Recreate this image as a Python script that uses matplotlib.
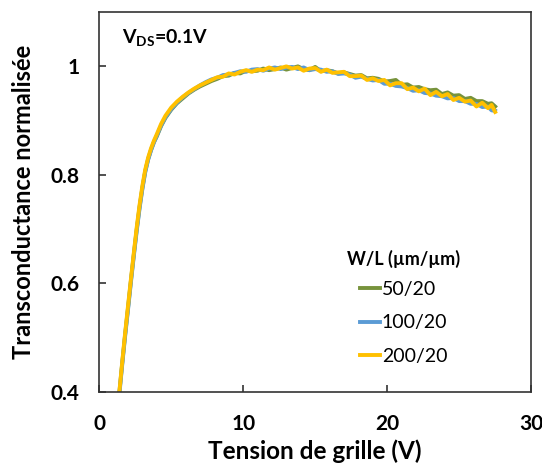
import matplotlib
matplotlib.use('Agg')
import matplotlib.pyplot as plt

# Gate voltage (V)
vg = [1.4, 1.6, 1.8, 2.0, 2.2, 2.4, 2.6, 2.8, 3.0, 3.2, 3.4, 3.6, 3.8, 4.0,
      4.3, 4.6, 5.0, 5.4, 5.8, 6.2, 6.6, 7.0, 7.4, 7.8, 8.2, 8.6, 9.0, 9.4,
      9.8, 10.2, 10.6, 11.0, 11.4, 11.8, 12.2, 12.6, 13.0, 13.4, 13.8, 14.2,
      14.6, 15.0, 15.4, 15.8, 16.2, 16.6, 17.0, 17.4, 17.8, 18.2, 18.6, 19.0,
      19.4, 19.8, 20.2, 20.6, 21.0, 21.4, 21.8, 22.2, 22.6, 23.0, 23.4, 23.8,
      24.2, 24.6, 25.0, 25.4, 25.8, 26.2, 26.6, 27.0, 27.25, 27.5]

# normalised transconductance, one list per W/L
gm_50 = [.398, .453, .505, .554, .604, .652, .698, .740, .776, .807, .829, .846, .860, .871,
         .890, .905, .920, .932, .941, .950, .957, .963, .968, .973, .977, .982, .983, .988,
         .987, .992, .991, .992, .996, .993, .995, .998, .994, .997, 1.000, .995,
         .993, .999, .991, .993, .991, .987, .989, .986, .983, .984, .978, .979,
         .977, .972, .973, .975, .966, .967, .961, .962, .958, .956, .957, .949,
         .952, .946, .947, .940, .942, .936, .936, .931, .932, .926]

gm_100 = [.395, .450, .502, .551, .601, .649, .695, .737, .774, .805, .828, .845, .860, .872,
          .891, .906, .921, .933, .943, .951, .958, .965, .971, .976, .979, .984, .985, .988,
          .991, .990, .994, .995, .992, .996, .998, .995, .998, .999, .995, .998,
          .993, .995, .994, .990, .991, .986, .987, .985, .979, .981, .977, .974,
          .975, .968, .968, .964, .963, .960, .955, .956, .951, .950, .946, .945,
          .941, .942, .936, .936, .931, .931, .925, .926, .919, .918]

gm_200 = [.400, .455, .508, .558, .607, .655, .702, .744, .780, .810, .832, .849, .863, .875,
          .894, .909, .924, .935, .944, .952, .959, .965, .970, .975, .980, .981, .987, .985,
          .990, .993, .990, .994, .993, .998, .994, .997, 1.000, .996, .998, .992,
          .996, .997, .990, .994, .988, .989, .990, .982, .982, .983, .975, .978,
          .973, .975, .965, .969, .969, .958, .961, .954, .959, .947, .953, .945,
          .949, .938, .942, .935, .937, .926, .933, .923, .929, .916]

labels = ['50/20', '100/20', '200/20']
colors = ['#77933C', '#5B9BD5', '#FFC000']

plt.rcParams['font.family'] = ['Lato', 'DejaVu Sans']
plt.rcParams['mathtext.fontset'] = 'custom'
plt.rcParams['mathtext.bf'] = 'Lato:bold'
plt.rcParams['mathtext.rm'] = 'Lato'

fig = plt.figure(figsize=(5.42, 4.67), dpi=100)
ax = fig.add_axes([0.183, 0.161, 0.797, 0.813])

for y, lab, c in zip([gm_50, gm_100, gm_200], labels, colors):
    ax.plot(vg, y, color=c, lw=2.8, label=lab)

ax.set_xlim(0, 30)
ax.set_ylim(0.4, 1.1)
ax.set_xticks([0, 10, 20, 30])
ax.set_yticks([0.4, 0.6, 0.8, 1.0])
ax.set_yticklabels(['0.4', '0.6', '0.8', '1'])
ax.tick_params(direction='in', length=5, width=1.2, color='#333333',
               labelsize=15)
ax.tick_params(axis='y', pad=14)
ax.tick_params(axis='x', pad=16)
for t in ax.get_xticklabels() + ax.get_yticklabels():
    t.set_fontweight('bold')
for s in ax.spines.values():
    s.set_color('#333333')
    s.set_linewidth(1.2)

ax.set_xlabel('Tension de grille (V)', fontsize=17.5, fontweight='bold', labelpad=4)
ax.set_ylabel('Transconductance normalisée', fontsize=17, fontweight='bold', labelpad=11)

ax.text(0.053, 0.934, r'$\mathbf{V_{DS}}$=0.1V', transform=ax.transAxes,
        fontsize=14, fontweight='bold', va='center')

leg = ax.legend(loc='center', bbox_to_anchor=(0.705, 0.222), frameon=False,
                title='W/L (µm/µm)', fontsize=14, handlelength=1.0,
                handletextpad=0.1, labelspacing=0.85)
leg.get_title().set_fontweight('bold')
leg.get_title().set_fontsize(13)
leg._legend_box.sep = 9

plt.savefig('out.png', dpi=100)
plt.close()
